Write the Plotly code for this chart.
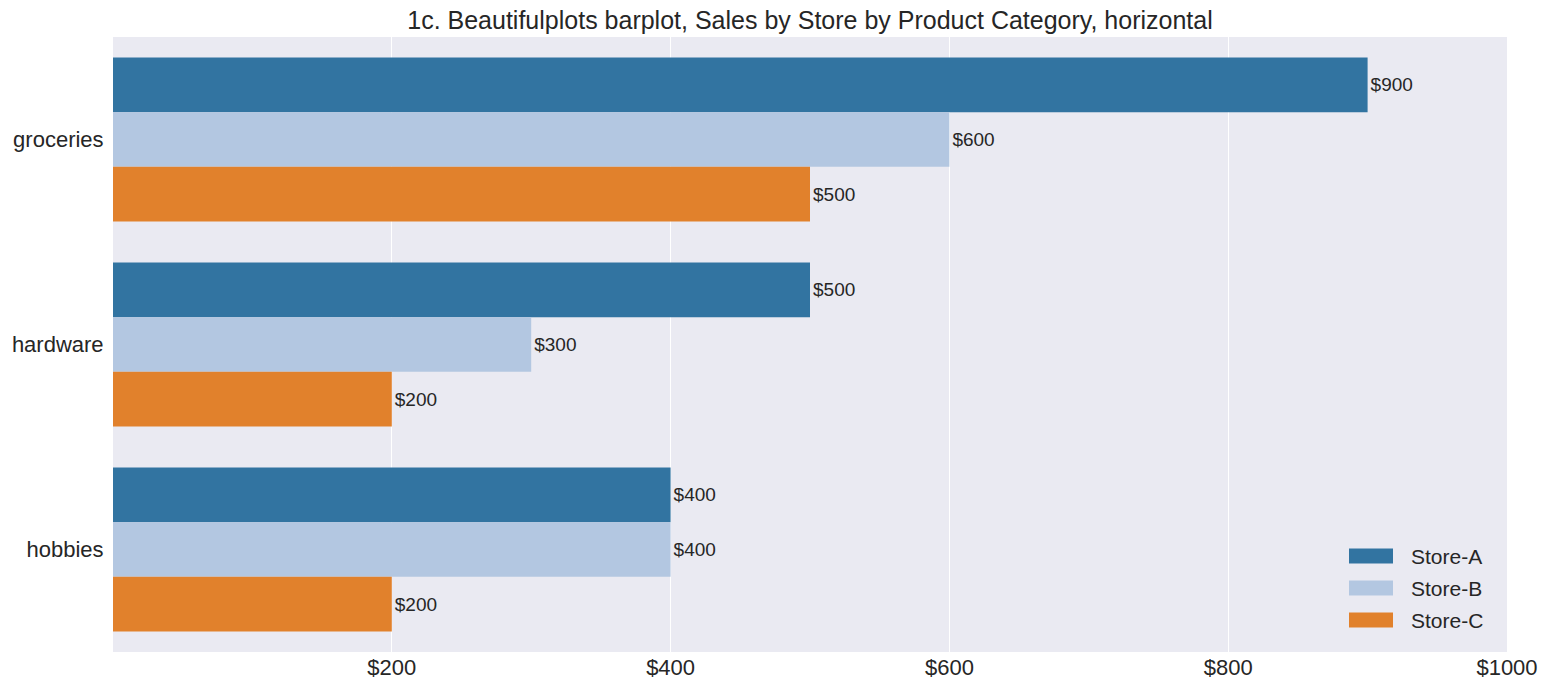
import plotly.graph_objects as go

categories = ["groceries", "hardware", "hobbies"]
stores = ["Store-A", "Store-B", "Store-C"]
sales = {
    "Store-A": [900, 500, 400],
    "Store-B": [600, 300, 400],
    "Store-C": [500, 200, 200],
}
colors = {"Store-A": "#3274a1", "Store-B": "#b3c7e1", "Store-C": "#e1812c"}
tick_values = [200, 400, 600, 800, 1000]
tick_labels = ["$200", "$400", "$600", "$800", "$1000"]

W, H = 1548, 694
L, R, T, B = 113, 41, 37, 42
pw, ph = W - L - R, H - T - B

fig = go.Figure()
for s in stores:
    fig.add_trace(go.Bar(
        y=categories, x=sales[s], name=s, orientation="h",
        marker=dict(color=colors[s], line=dict(width=0)),
        text=[f"${v}" for v in sales[s]], textposition="outside",
        textfont=dict(size=19, color="#262626"), cliponaxis=False,
        showlegend=False,
    ))

# custom legend (wide patches like the reference)
legend_y = [556, 588, 620]
for s, py in zip(stores, legend_y):
    yc = (H - B - py) / ph
    fig.add_shape(type="rect", xref="paper", yref="paper",
                  x0=(1349 - L) / pw, x1=(1393 - L) / pw,
                  y0=yc - 7.5 / ph, y1=yc + 7.5 / ph,
                  fillcolor=colors[s], line=dict(width=0))
    fig.add_annotation(xref="paper", yref="paper", x=(1409 - L) / pw, y=yc,
                       xanchor="left", yanchor="middle", text=s, showarrow=False,
                       font=dict(size=21, color="#262626"))

fig.update_layout(
    width=W, height=H,
    margin=dict(l=L, r=R, t=T, b=B),
    paper_bgcolor="white", plot_bgcolor="#eaeaf2",
    font=dict(family="Liberation Sans, Arial, sans-serif", color="#262626"),
    title=dict(text="1c. Beautifulplots barplot, Sales by Store by Product Category, horizontal",
               x=0.5, xref="paper", xanchor="center", y=1 - 20/694, yanchor="middle",
               font=dict(size=25, color="#262626")),
    barmode="group", bargap=0.2, bargroupgap=0,
    uniformtext=dict(minsize=19, mode="show"),
)
fig.update_xaxes(range=[0, 1000], tickvals=tick_values, ticktext=tick_labels,
                 showgrid=True, gridcolor="white", gridwidth=1.3, zeroline=False,
                 tickfont=dict(size=22, color="#262626"), ticks="", showline=False,
                 automargin=False)
fig.update_yaxes(range=[2.5, -0.5], showgrid=False, zeroline=False,
                 tickfont=dict(size=22, color="#262626"), ticks="outside",
                 ticklen=4, tickcolor="rgba(0,0,0,0)", showline=False,
                 automargin=False)

fig.write_html("out.html")
